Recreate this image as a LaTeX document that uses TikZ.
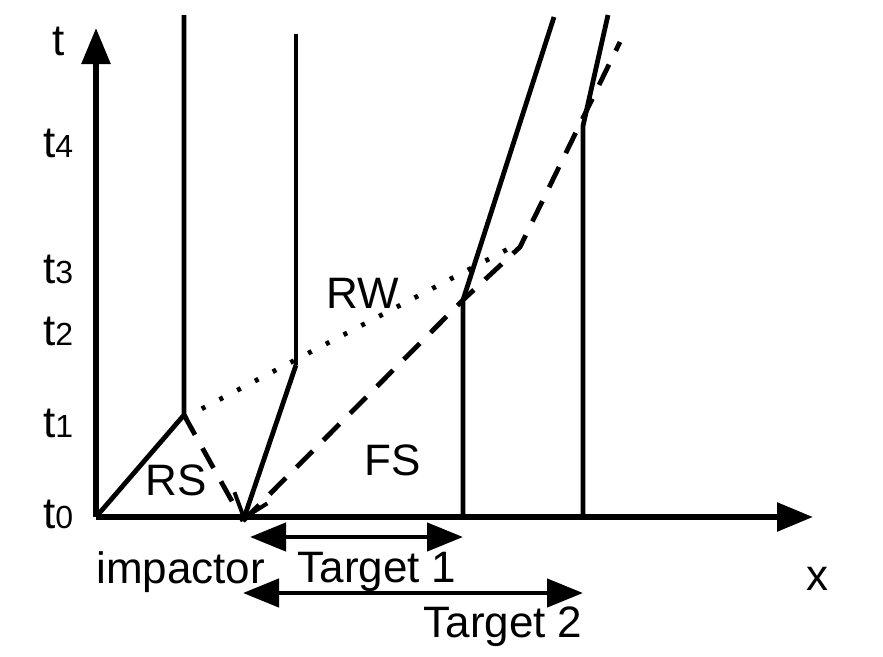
\documentclass[tikz,border=0pt]{standalone}
\usepackage{fontspec}
\setmainfont{Liberation Sans}
\usetikzlibrary{arrows.meta}
\begin{document}
\begin{tikzpicture}[x=0.75pt,y=-0.75pt,
  ln/.style={line width=3.6pt},
  axisline/.style={line width=4.2pt,-{Triangle[length=27pt,width=21pt]}},
  dimline/.style={line width=3.4pt,{Triangle[length=27pt,width=21pt]}-{Triangle[length=27pt,width=21pt]}},
  dsh/.style={ln,dash pattern=on 17pt off 11.5pt},
  dotline/.style={ln,dash pattern=on 3pt off 12pt},
  barb/.style={ln,-{Straight Barb[length=16pt,width=26pt,line width=3pt]}},
  lbl/.style={font=\fontsize{33}{36}\selectfont,inner sep=0pt,anchor=base},
  tick/.style={font=\fontsize{33}{36}\selectfont,inner sep=0pt,anchor=base west}
]
\useasboundingbox (0,0) rectangle (883,657);
% coordinates
\coordinate (O) at (96,517);
\coordinate (tT) at (96,28);
\coordinate (xT) at (813,517);
\coordinate (A) at (184,415);
\coordinate (Atop) at (184,15);
\coordinate (B) at (243,521);
\coordinate (C) at (296,365);
\coordinate (Ctop) at (296,34);
\coordinate (D) at (463,300);
\coordinate (Dbot) at (463,517);
\coordinate (Dtop) at (554,17);
\coordinate (E) at (583,126);
\coordinate (Ebot) at (583,517);
\coordinate (Etop) at (608,15);
\coordinate (R1) at (184,418);
\coordinate (R2) at (510,248);
\coordinate (F1) at (520,247);
\coordinate (F2) at (620,42);
\coordinate (T1a) at (250,537);
\coordinate (T1b) at (463,537);
\coordinate (T2a) at (243,593);
\coordinate (T2b) at (583,593);
% axes
\draw[axisline] (O) -- (tT);
\draw[axisline] (O) -- (xT);
% solid world lines
\draw[ln] (O) -- (A) -- (Atop);
\draw[ln] (Ctop) -- (C);
\draw[barb] (C) -- (B);
\draw[ln] (Dbot) -- (D) -- (Dtop);
\draw[ln] (Ebot) -- (E) -- (Etop);
% dashed shocks
\draw[dsh] (A) -- (B);
\draw[dsh] (B) -- (D) -- (F1) -- (F2);
% dotted rarefaction
\draw[dotline] (R1) -- (R2);
% dimension arrows
\draw[dimline] (T1a) -- (T1b);
\draw[dimline] (T2a) -- (T2b);
% labels
\node[lbl] (lt) at (59,55) {t};
\node[tick] (l4) at (43,157) {t{\fontsize{24}{26}\selectfont 4}};
\node[tick] (l3) at (43,283) {t{\fontsize{24}{26}\selectfont 3}};
\node[tick] (l2) at (43,345) {t{\fontsize{24}{26}\selectfont 2}};
\node[tick] (l1) at (43,437) {t{\fontsize{24}{26}\selectfont 1}};
\node[tick] (l0) at (43,528) {t{\fontsize{24}{26}\selectfont 0}};
\node[lbl] (lx) at (817,590) {x};
\node[lbl] (lrs) at (176,495) {RS};
\node[lbl] (lfs) at (393,475) {FS};
\node[lbl] (lrw) at (363,308) {RW};
\node[tick] (limp) at (96,583) {impactor};
\node[lbl] (lt1) at (377,582) {Target 1};
\node[lbl] (lt2) at (503,637) {Target 2};
\end{tikzpicture}
\end{document}
